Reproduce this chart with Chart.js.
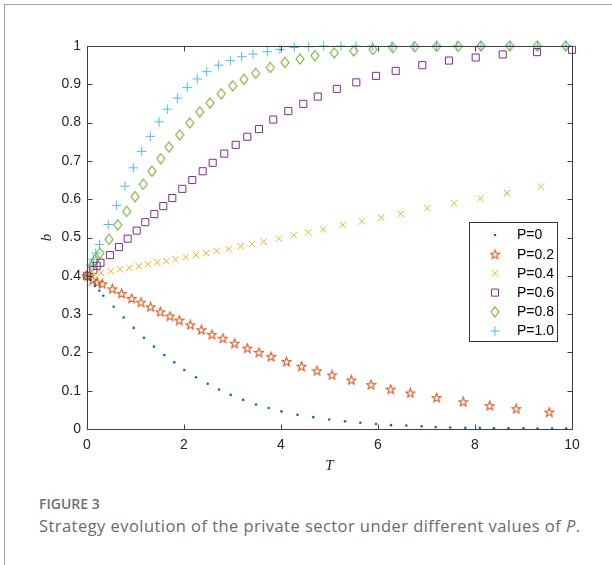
<!DOCTYPE html>
<html><head><meta charset="utf-8">
<script src="https://cdn.jsdelivr.net/npm/chart.js@4.4.0/dist/chart.umd.min.js"></script>
<style>
html,body{margin:0;padding:0;background:#fff;}
body{width:612px;height:565px;position:relative;overflow:hidden;}
#frame{position:absolute;left:4px;top:4px;width:640px;height:640px;border-left:1px solid #a6a6a6;border-top:1px solid #a6a6a6;}
#wrap{position:absolute;left:0;top:0;width:612px;height:480px;}
#fig{position:absolute;left:39px;top:494px;font-family:'Open Sans';font-weight:600;font-size:14px;color:#707070;white-space:nowrap;}
#cap{position:absolute;left:39px;top:514px;font-family:'Open Sans';font-size:16.5px;color:#6a6a6a;white-space:nowrap;}
</style></head>
<body>
<div id="frame"></div>
<div id="wrap"><canvas id="c" width="612" height="480"></canvas></div>
<div id="fig">FIGURE 3</div>
<div id="cap">Strategy evolution of the private sector under different values of <i>P</i>.</div>
<script>
// ---- data ----
const T_P0 = [0,0.076,0.165,0.254,0.336,0.551,0.757,0.963,1.175,1.381,1.594,1.80,2.006,2.247,2.489,2.722,2.963,3.221,3.485,3.746,4.01,4.34,4.666,4.994,5.32,5.635,5.959,6.268,6.584,6.90,7.19,7.49,7.80,8.10,8.39,8.69,9.00,9.29,9.59,9.88];
const B_P0 = [0.4,0.389,0.374,0.361,0.348,0.319,0.291,0.264,0.238,0.215,0.193,0.174,0.154,0.135,0.118,0.103,0.089,0.076,0.064,0.055,0.046,0.037,0.031,0.025,0.020,0.016,0.013,0.010,0.009,0.007,0.005,0.004,0.003,0.003,0.002,0.002,0.002,0.001,0.001,0.001];
const T_P02 = [0,0.118,0.212,0.315,0.522,0.715,0.922,1.113,1.313,1.511,1.711,1.903,2.13,2.357,2.577,2.804,3.045,3.305,3.546,3.794,4.113,4.423,4.742,5.052,5.449,5.856,6.262,6.666,7.21,7.757,8.305,8.85,9.53];
const B_P02 = [0.4,0.389,0.383,0.379,0.366,0.354,0.341,0.331,0.319,0.306,0.295,0.284,0.272,0.259,0.247,0.237,0.224,0.211,0.200,0.189,0.176,0.164,0.152,0.141,0.128,0.116,0.104,0.094,0.082,0.071,0.061,0.053,0.044];
const T_P04 = [0,0.15,0.29,0.489,0.68,0.872,1.066,1.258,1.449,1.635,1.82,2.035,2.247,2.46,2.674,2.92,3.169,3.40,3.643,3.959,4.262,4.563,4.866,5.272,5.67,6.068,6.468,7.016,7.567,8.109,8.66,9.36];
const B_P04 = [0.4,0.404,0.407,0.412,0.417,0.421,0.425,0.43,0.435,0.438,0.443,0.449,0.454,0.459,0.465,0.470,0.477,0.483,0.489,0.497,0.506,0.513,0.521,0.533,0.542,0.552,0.562,0.576,0.589,0.602,0.616,0.633];
const T_P06 = [0,0.13,0.2,0.278,0.474,0.66,0.839,1.025,1.202,1.388,1.573,1.759,1.965,2.171,2.386,2.592,2.831,3.066,3.305,3.546,3.841,4.151,4.46,4.757,5.151,5.553,5.959,6.365,6.913,7.464,8.014,8.571,9.278,10.0];
const B_P06 = [0.4,0.415,0.426,0.434,0.454,0.475,0.497,0.518,0.540,0.561,0.582,0.603,0.627,0.650,0.673,0.695,0.719,0.742,0.763,0.783,0.808,0.830,0.849,0.868,0.888,0.905,0.922,0.935,0.950,0.962,0.970,0.978,0.984,0.990];
const T_P08 = [0,0.097,0.165,0.268,0.454,0.633,0.819,0.99,1.161,1.34,1.52,1.691,1.911,2.118,2.324,2.536,2.769,3.004,3.237,3.478,3.779,4.082,4.392,4.701,5.097,5.499,5.897,6.303,6.757,7.21,7.656,8.124,8.715,9.285,9.87];
const B_P08 = [0.4,0.424,0.441,0.459,0.495,0.533,0.568,0.607,0.639,0.673,0.706,0.736,0.768,0.799,0.828,0.851,0.875,0.896,0.913,0.929,0.944,0.957,0.966,0.975,0.982,0.987,0.991,0.996,0.998,0.999,0.999,1.0,1.0,1.0,1.0];
const T_P10 = [0,0.062,0.13,0.18,0.258,0.439,0.612,0.784,0.955,1.128,1.305,1.485,1.656,1.862,2.068,2.274,2.468,2.715,2.955,3.19,3.423,3.718,3.979,4.274,4.571,4.88,5.237,5.546,5.882,6.289,6.742,7.206,7.629,8.124,8.722,9.289,9.876];
const B_P10 = [0.4,0.428,0.443,0.459,0.482,0.534,0.584,0.634,0.682,0.725,0.764,0.802,0.835,0.864,0.892,0.914,0.933,0.950,0.962,0.972,0.979,0.985,0.991,0.996,0.998,1.0,1.0,1.0,1.0,1.0,1.0,1.0,1.0,1.0,1.0,1.0,1.0];
const seriesLabels = ['P=0','P=0.2','P=0.4','P=0.6','P=0.8','P=1.0'];
const xTickValues = [0,2,4,6,8,10];
const xTickLabels = ['0','2','4','6','8','10'];
const yTickValues = [0,0.1,0.2,0.3,0.4,0.5,0.6,0.7,0.8,0.9,1];
const yTickLabels = ['0','0.1','0.2','0.3','0.4','0.5','0.6','0.7','0.8','0.9','1'];
const xTitle = 'T';
const yTitle = 'b';

// fit caption to its width in the reference
(function(){
  const cap=document.getElementById('cap');
  const w=cap.getBoundingClientRect().width, target=541;
  const n=cap.textContent.length-1;
  if(n>0) cap.style.letterSpacing=((target-w)/n).toFixed(3)+'px';
})();

// ---- styles ----
const colors = ['#0072BD','#D95319','#EDB120','#7E2F8E','#77AC30','#4DBEEE'];
function makeStar(color){
  const c=document.createElement('canvas'); c.width=11; c.height=11;
  const g=c.getContext('2d'); g.strokeStyle=color; g.lineWidth=1.1; g.beginPath();
  for(let i=0;i<10;i++){const r=i%2?2.0:4.7; const a=-Math.PI/2+i*Math.PI/5; const x=5.5+r*Math.cos(a), y=5.9+r*Math.sin(a); if(i) g.lineTo(x,y); else g.moveTo(x,y);}
  g.closePath(); g.stroke(); return c;
}
function makeDiamond(color){
  const c=document.createElement('canvas'); c.width=10; c.height=12;
  const g=c.getContext('2d'); g.strokeStyle=color; g.lineWidth=1.1; g.beginPath();
  g.moveTo(5,1); g.lineTo(9,6); g.lineTo(5,11); g.lineTo(1,6); g.closePath(); g.stroke(); return c;
}
const pStyles = [
  {pointStyle:'circle', pointRadius:1.3, borderWidth:0, fill:true},
  {pointStyle:makeStar(colors[1]), pointRadius:4, borderWidth:1},
  {pointStyle:'crossRot', pointRadius:4.6, borderWidth:1},
  {pointStyle:'rect', pointRadius:5, borderWidth:1},
  {pointStyle:makeDiamond(colors[4]), pointRadius:4, borderWidth:1},
  {pointStyle:'cross', pointRadius:4.8, borderWidth:1}
];
const Ts=[T_P0,T_P02,T_P04,T_P06,T_P08,T_P10], Bs=[B_P0,B_P02,B_P04,B_P06,B_P08,B_P10];
const datasets = seriesLabels.map((lab,i)=>({
  label: lab,
  data: Ts[i].map((t,j)=>({x:t,y:Bs[i][j]})),
  showLine:false,
  clip:false,
  pointStyle:pStyles[i].pointStyle,
  pointRadius:pStyles[i].pointRadius,
  pointHoverRadius:pStyles[i].pointRadius,
  pointBorderWidth:pStyles[i].borderWidth,
  borderColor:colors[i],
  backgroundColor: pStyles[i].fill ? colors[i] : 'rgba(0,0,0,0)',
  pointBackgroundColor: pStyles[i].fill ? colors[i] : 'rgba(0,0,0,0)'
}));

const axisColor = '#404040';
const boxPlugin = {
  id:'box',
  afterDatasetsDraw(chart){
    const {ctx, chartArea:a, scales:{x,y}} = chart;
    ctx.save();
    ctx.strokeStyle=axisColor; ctx.lineWidth=1;
    const L=Math.round(a.left)+0.5, R=Math.round(a.right)+0.5, T=Math.round(a.top)+0.5, B=Math.round(a.bottom)+0.5;
    ctx.beginPath(); ctx.rect(L,T,R-L,B-T); ctx.stroke();
    const tl=5;
    ctx.beginPath();
    xTickValues.forEach(v=>{const px=Math.round(x.getPixelForValue(v))+0.5; ctx.moveTo(px,B); ctx.lineTo(px,B-tl); ctx.moveTo(px,T); ctx.lineTo(px,T+tl);});
    yTickValues.forEach(v=>{const py=Math.round(y.getPixelForValue(v))+0.5; ctx.moveTo(L,py); ctx.lineTo(L+tl,py); ctx.moveTo(R,py); ctx.lineTo(R-tl,py);});
    ctx.stroke();
    ctx.restore();
  },
  afterDraw(chart){
    const ctx=chart.ctx;
    const bx=469.5, by=222.5, bw=88, bh=119;
    ctx.save();
    ctx.fillStyle='#fff'; ctx.fillRect(bx,by,bw,bh);
    ctx.strokeStyle='#333'; ctx.lineWidth=1; ctx.strokeRect(bx,by,bw,bh);
    ctx.font='14px "Liberation Sans", Arial, sans-serif'; ctx.textBaseline='middle'; ctx.fillStyle='#000';
    chart.data.datasets.forEach((ds,i)=>{
      const cy=235+i*19.2;
      ctx.strokeStyle=colors[i]; ctx.fillStyle=pStyles[i].fill?colors[i]:'rgba(0,0,0,0)';
      Chart.helpers.drawPoint(ctx,{pointStyle:ds.pointStyle,radius:ds.pointRadius,borderWidth:ds.pointBorderWidth,rotation:0},495,cy);
      ctx.fillStyle='#000';
      ctx.fillText(ds.label,517,cy+0.5);
    });
    ctx.restore();
  }
};

new Chart(document.getElementById('c'),{
  type:'scatter',
  data:{datasets},
  options:{
    responsive:false, animation:false, devicePixelRatio:1,
    layout:{padding:{left:0,right:40,top:46,bottom:0}},
    plugins:{legend:{display:false},tooltip:{enabled:false}},
    scales:{
      x:{type:'linear',min:0,max:10,
        afterBuildTicks:s=>{s.ticks=xTickValues.map(v=>({value:v}));},
        afterFit:s=>{s.height=51;},
        grid:{display:false,drawTicks:false}, border:{display:false},
        ticks:{padding:8,color:'#262626',font:{family:'"Liberation Sans", Arial',size:14},maxRotation:0,autoSkip:false,callback:(v,i)=>xTickLabels[i]},
        title:{display:true,text:xTitle,color:'#262626',font:{family:'"Liberation Serif", "Times New Roman"',style:'italic',size:15},padding:{top:0,bottom:5}}
      },
      y:{type:'linear',min:0,max:1,
        afterBuildTicks:s=>{s.ticks=yTickValues.map(v=>({value:v}));},
        afterFit:s=>{s.width=87;},
        grid:{display:false,drawTicks:false}, border:{display:false},
        ticks:{padding:6,color:'#262626',font:{family:'"Liberation Sans", Arial',size:14},autoSkip:false,callback:(v,i)=>yTickLabels[i]},
        title:{display:true,text:yTitle,color:'#262626',font:{family:'"Liberation Serif", "Times New Roman"',style:'italic',size:15},padding:{top:38,bottom:0}}
      }
    }
  },
  plugins:[boxPlugin]
});
</script>
</body></html>
